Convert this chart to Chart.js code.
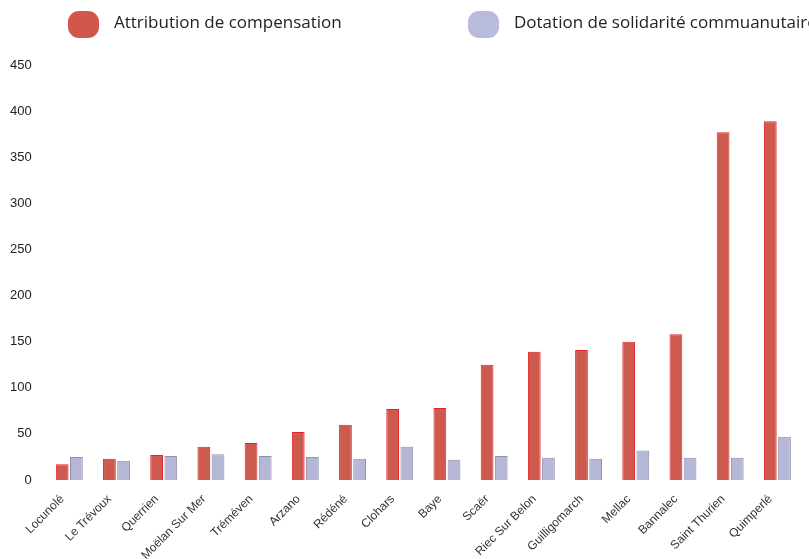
<!DOCTYPE html>
<html>
<head>
<meta charset="utf-8">
<script src="https://cdn.jsdelivr.net/npm/chart.js@4/dist/chart.umd.min.js"></script>
<style>
  html, body { margin: 0; padding: 0; background: #fff; }
  #wrap { width: 809px; height: 559px; }
</style>
</head>
<body>
<div id="wrap"><canvas id="chart" width="809" height="559"></canvas></div>
<script>
// Communes
const communes = ['Locunolé', 'Le Trévoux', 'Querrien', 'Moëlan Sur Mer', 'Tréméven', 'Arzano', 'Rédéné', 'Clohars',
    'Baye', 'Scaër', 'Riec Sur Belon', 'Guilligomarch', 'Mellac', 'Bannalec', 'Saint Thurien', 'Quimperlé'];

// Attribution de compensation
const attribution = [17, 23, 27, 36, 40, 52, 60, 77, 78, 125, 139, 141, 150, 158, 377, 389];

// Dotation de solidarité communautaire
const dotation = [25, 21, 26, 28, 26, 25, 23, 36, 22, 26, 24, 23, 32, 24, 24, 47];

const yTicks = [0, 50, 100, 150, 200, 250, 300, 350, 400, 450];

// legend drawn by hand, the built-in one can't space the two items this far apart
const legendSpots = [68, 468];

const topLegend = {
    id: 'topLegend',
    afterDraw: function(chart) {
        const c = chart.ctx;
        c.save();
        chart.data.datasets.forEach(function(ds, i) {
            const x = legendSpots[i];
            c.fillStyle = ds.legendColor;
            c.beginPath();
            c.roundRect(x, 11, 31, 27, 11);
            c.fill();
            c.fillStyle = '#222';
            c.font = '17px "Open Sans"';
            c.textBaseline = 'middle';
            c.fillText(ds.label, x + 46, 23);
        });
        c.restore();
    }
};

const ctx = document.getElementById('chart').getContext('2d');
new Chart(ctx, {
    type: 'bar',
    data: {
        labels: communes,
        datasets: [{
            label: 'Attribution de compensation',
            data: attribution,
            backgroundColor: '#cd5a4c',
            borderColor: '#e3242b',
            legendColor: '#d2574b',
            borderWidth: 1
        }, {
            label: 'Dotation de solidarité commuanutaire',
            data: dotation,
            backgroundColor: '#b5b7d6',
            borderColor: '#8e90ad',
            legendColor: '#b8bbdb',
            borderWidth: 1
        }]
    },
    plugins: [topLegend],
    options: {
        responsive: false,
        animation: false,
        layout: { padding: { left: 4, right: 8, top: 65, bottom: 0 } },
        datasets: { bar: { categoryPercentage: 0.6, barPercentage: 0.9 } },
        plugins: {
            tooltip: { enabled: false },
            legend: { display: false }
        },
        scales: {
            x: {
                grid: { display: false },
                border: { display: false },
                afterFit: function(scale) { scale.height = 79; },
                ticks: {
                    minRotation: 45,
                    maxRotation: 45,
                    autoSkip: false,
                    color: '#333',
                    padding: 4,
                    labelOffset: -7,
                    font: { family: 'Liberation Sans', size: 12 }
                }
            },
            y: {
                min: 0,
                max: 450,
                afterBuildTicks: function(axis) {
                    axis.ticks = yTicks.map(function(v) { return { value: v }; });
                },
                grid: { display: false },
                border: { display: false },
                ticks: {
                    color: '#222',
                    padding: 6,
                    font: { family: 'Liberation Sans', size: 13 }
                }
            }
        }
    }
});
</script>
</body>
</html>
